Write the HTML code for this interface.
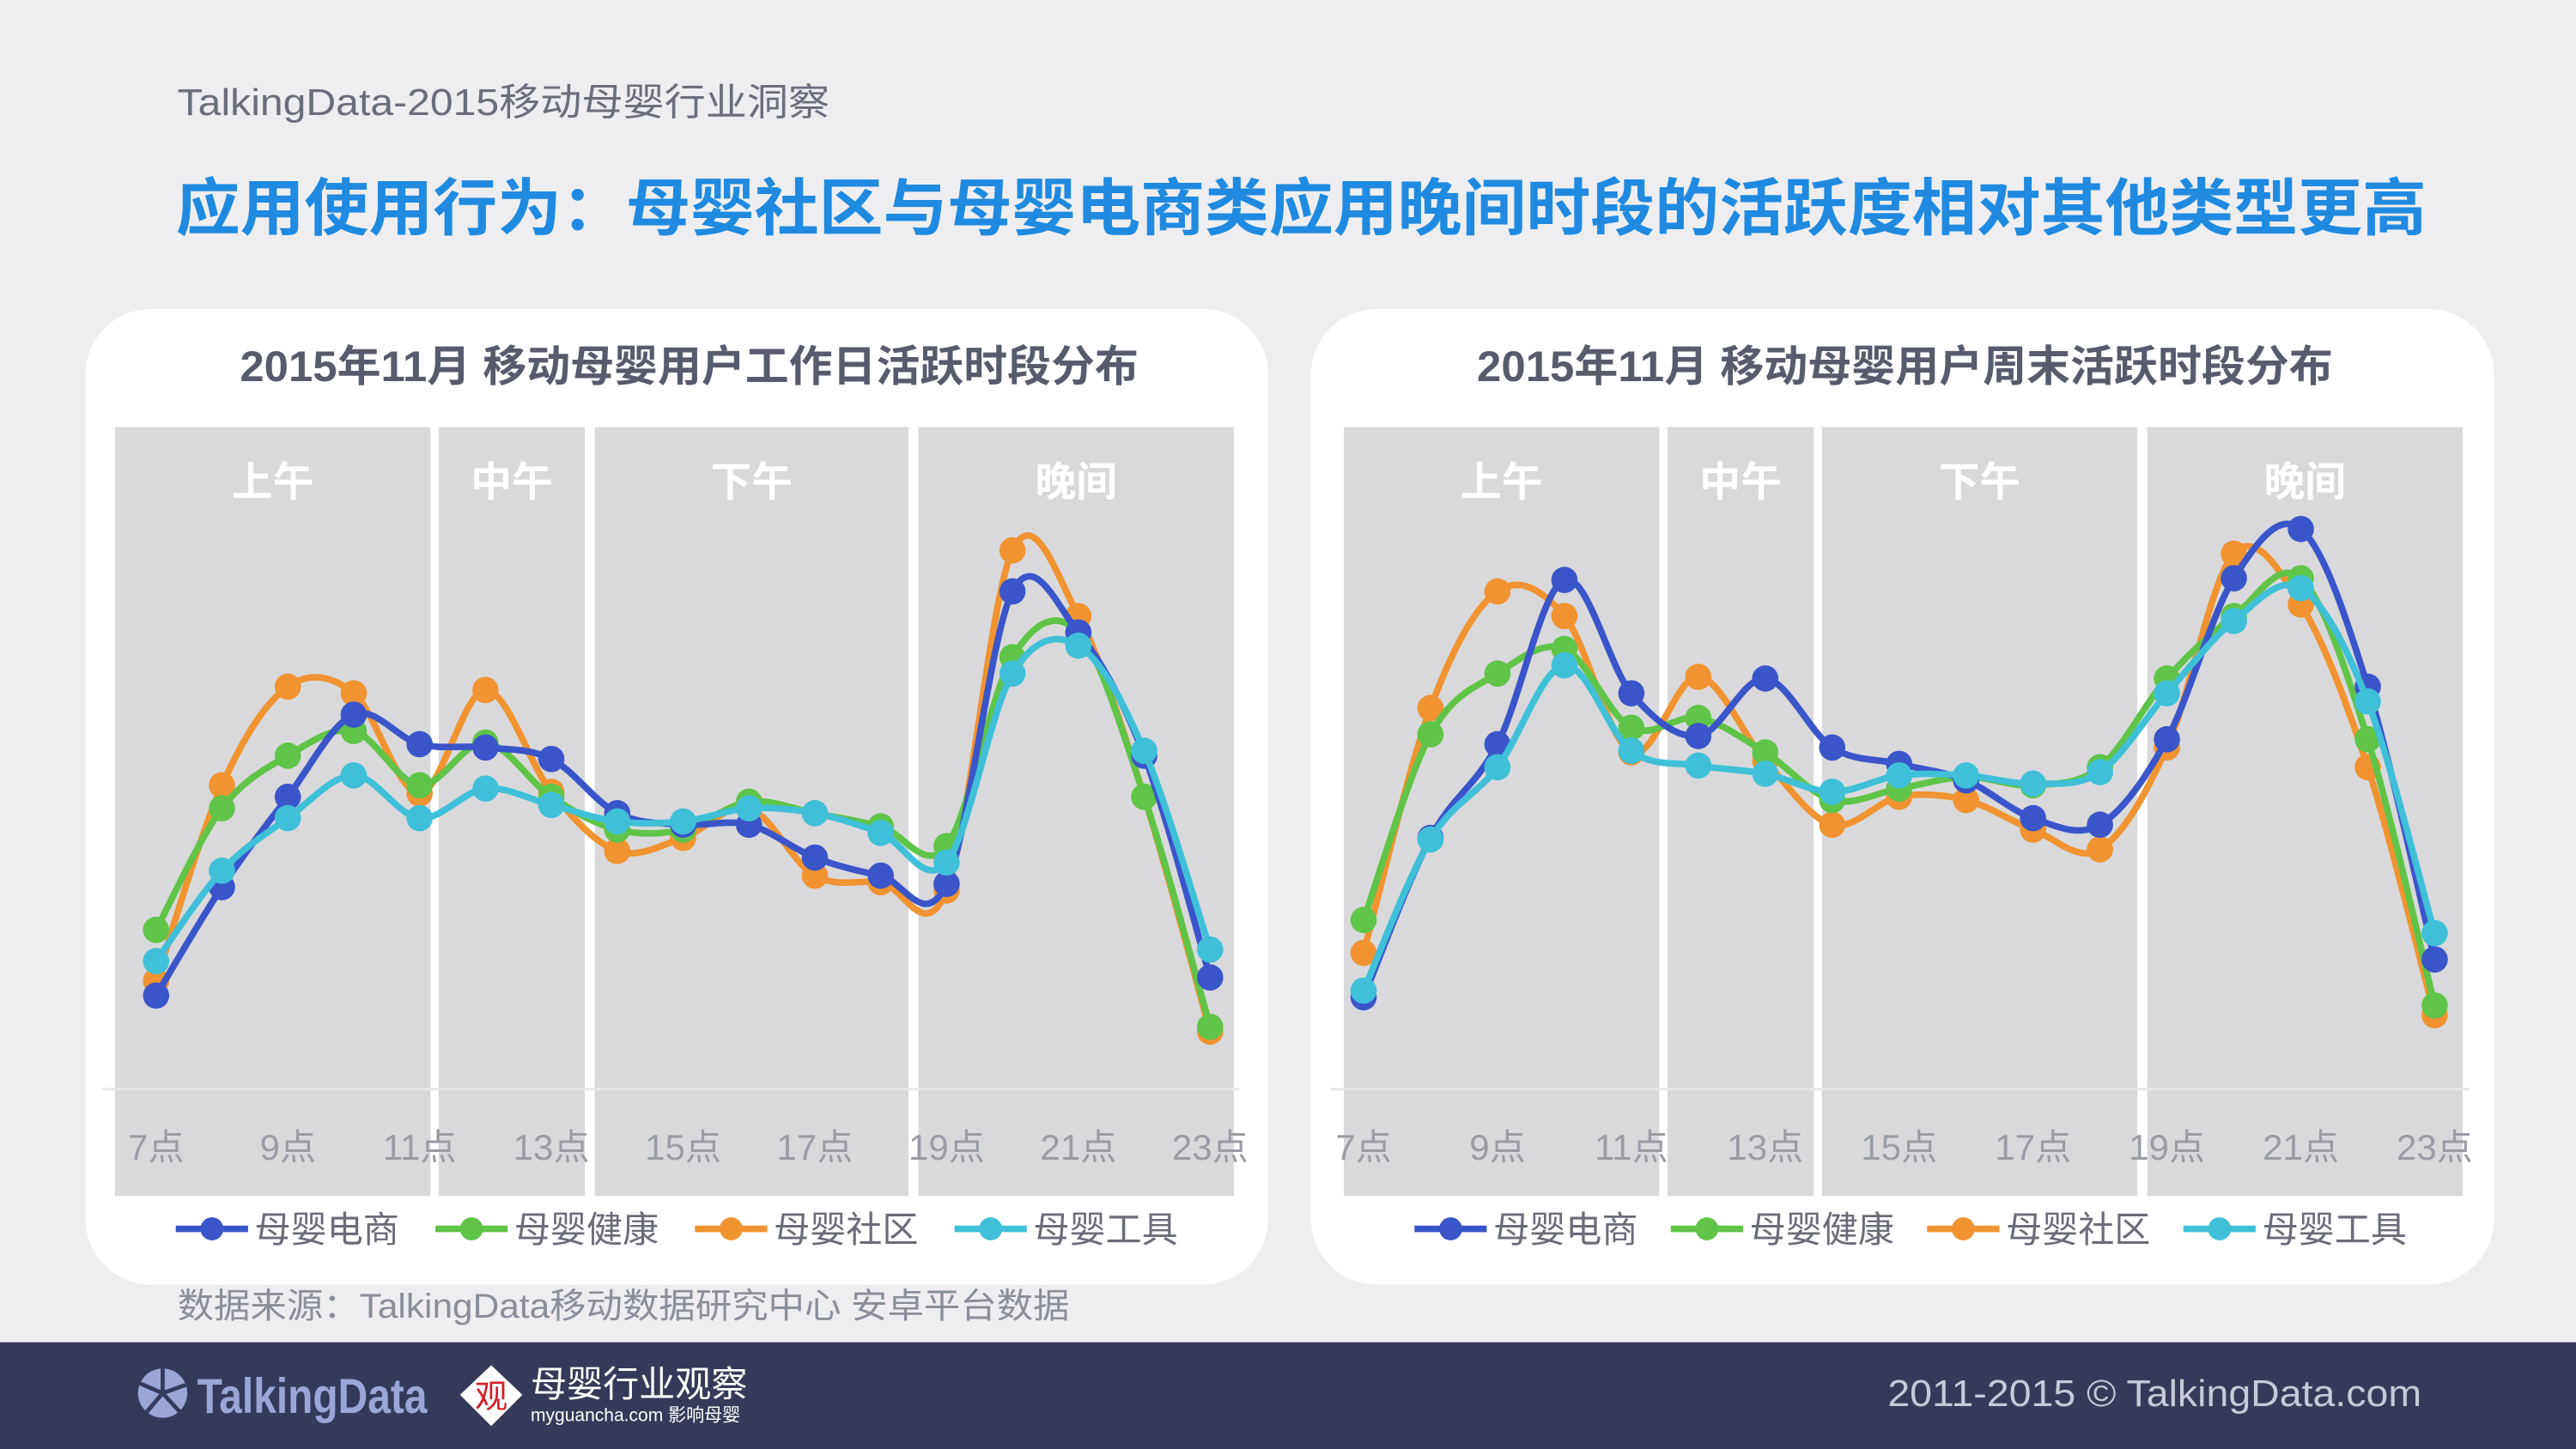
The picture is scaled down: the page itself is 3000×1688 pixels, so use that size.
<!DOCTYPE html>
<html><head><meta charset="utf-8">
<style>
html,body{margin:0;padding:0;width:3000px;height:1688px;overflow:hidden;background:#efeff2;}
svg{display:block;font-family:"Liberation Sans","Noto Sans CJK SC",sans-serif;}
</style></head>
<body>
<svg id="root" width="3000" height="1688" viewBox="0 0 1568 882" preserveAspectRatio="none">
  <rect x="0" y="0" width="1568" height="817" fill="#eeeef1"/>
  <text x="108" y="70" font-size="23" fill="#6a6e7a" textLength="397" lengthAdjust="spacingAndGlyphs">TalkingData-2015移动母婴行业洞察</text>
  <text x="107" y="140" font-size="38" font-weight="bold" fill="#1f8ae0" textLength="1370" lengthAdjust="spacingAndGlyphs">应用使用行为：母婴社区与母婴电商类应用晚间时段的活跃度相对其他类型更高</text>
  <g id="chartL"></g>
  <g id="chartR"></g>
  <text x="108" y="802" font-size="21" fill="#8a8e98" textLength="543" lengthAdjust="spacingAndGlyphs">数据来源：TalkingData移动数据研究中心 安卓平台数据</text>
  <rect x="0" y="817" width="1568" height="65" fill="#353a5a"/>
  <g>
    <circle cx="99" cy="848" r="15" fill="#9aa6d6"/>
    <path d="M99 848 L99 833 M99 848 L113 843 M99 848 L110 860 M99 848 L88 861 M99 848 L85 842" stroke="#353a5a" stroke-width="2.5"/>
    <text x="120" y="860" font-size="30" font-weight="bold" fill="#9aa6d6" textLength="140" lengthAdjust="spacingAndGlyphs">TalkingData</text>
  </g>
  <g>
    <polygon points="299,831 318,849 299,868 280,849" fill="#fff"/>
    <text x="299" y="857" font-size="20" fill="#d0202a" text-anchor="middle">观</text>
    <text x="323" y="850" font-size="22" fill="#fff">母婴行业观察</text>
    <text x="323" y="865" font-size="11" fill="#fff">myguancha.com 影响母婴</text>
  </g>
  <text x="1474" y="856" font-size="23" fill="#c6c9d8" text-anchor="end" textLength="325" lengthAdjust="spacingAndGlyphs">2011-2015 © TalkingData.com</text>
</svg>
<script>
const hours = [7,8,9,10,11,12,13,14,15,16,17,18,19,20,21,22,23];
const tickLabels = ["7点","9点","11点","13点","15点","17点","19点","21点","23点"];
const seriesNames = ["母婴电商","母婴健康","母婴社区","母婴工具"];
const periodLabels = ["上午","中午","下午","晚间"];
const wdEcommerce = [57,123,178,228,210,208,201,168,161,161,141,130,125,303,278,203,68];
const wdHealth    = [97,171,203,218,185,211,178,158,158,175,168,160,148,263,278,178,38];
const wdCommunity = [66,185,245,241,180,243,181,145,153,171,130,126,121,328,288,178,35];
const wdTools     = [78,133,165,191,165,183,173,163,163,171,168,156,138,253,270,206,85];
const weEcommerce = [56,153,210,310,241,215,250,208,198,188,165,161,213,311,341,245,79];
const weHealth    = [103,216,253,268,220,226,205,176,183,190,185,196,250,288,311,213,51];
const weCommunity = [83,232,303,288,205,251,200,161,178,176,158,146,208,326,295,196,45];
const weTools     = [60,152,196,258,206,197,192,181,191,191,186,193,241,285,305,236,95];

const colors = ["#3a55c9","#5fc447","#f09330","#3fc0d8"];
const NS = "http://www.w3.org/2000/svg";
function mk(tag, attrs, parent){const e=document.createElementNS(NS,tag);for(const k in attrs)e.setAttribute(k,attrs[k]);parent.appendChild(e);return e;}

function drawChart(g, cfg, data){
  const panel = mk('rect',{x:cfg.px,y:188,width:720,height:594,rx:40,fill:'#fff'},g);
  
  
  const t = mk('text',{x:cfg.tx,y:232,'font-size':26,'font-weight':'bold',fill:'#575b6b',textLength:cfg.tw,lengthAdjust:'spacingAndGlyphs'},g);
  t.textContent = cfg.title;
  
  
  const xs = h => cfg.x0 + (h-7)*cfg.step;
  const ys = v => 663 - v;
  cfg.bands.forEach((b,i)=>{
    const r = mk('rect',{x:b[0],y:260,width:b[1]-b[0],height:468,fill:'#d9d9dc'},g);
    
    
    const lt = mk('text',{x:(b[0]+b[1])/2,y:302,'font-size':25,'font-weight':'bold',fill:'#fff','text-anchor':'middle'},g);
    lt.textContent = periodLabels[i];
    
    
  });
  const base = mk('line',{x1:cfg.bands[0][0]-8,x2:cfg.bands[3][1]+4,y1:663,y2:663,stroke:'#e8e8ea','stroke-width':1.5},g);
  
  
  tickLabels.forEach((lab,i)=>{
    const tx = mk('text',{x:xs(7+i*2),y:706,'font-size':22,fill:'#9a9ca4','text-anchor':'middle'},g);
    tx.textContent = lab;
    
    
  });
  const order=[2,1,0,3];
  order.forEach(si=>{
    const vals=data[si];
    const pts=vals.map((v,i)=>[xs(hours[i]),ys(v)]);
    let d='M'+pts[0][0]+' '+pts[0][1];
    for(let i=0;i<pts.length-1;i++){
      const p0=pts[Math.max(0,i-1)],p1=pts[i],p2=pts[i+1],p3=pts[Math.min(pts.length-1,i+2)];
      const c1=[p1[0]+(p2[0]-p0[0])/6,p1[1]+(p2[1]-p0[1])/6];
      const c2=[p2[0]-(p3[0]-p1[0])/6,p2[1]-(p3[1]-p1[1])/6];
      d+=` C${c1[0]} ${c1[1]} ${c2[0]} ${c2[1]} ${p2[0]} ${p2[1]}`;
    }
    const path=mk('path',{d:d,fill:'none',stroke:colors[si],'stroke-width':4},g);
    
    
    pts.forEach(p=>{
      const c=mk('circle',{cx:p[0],cy:p[1],r:8,fill:colors[si]},g);
      
      
    });
  });
  seriesNames.forEach((n,i)=>{
    const lx=cfg.legX+i*cfg.legStep;
    const lg=mk('g',{},g);
    
    
    mk('line',{x1:lx,x2:lx+44,y1:748,y2:748,stroke:colors[i],'stroke-width':4},lg);
    mk('circle',{cx:lx+22,cy:748,r:7,fill:colors[i]},lg);
    const tx=mk('text',{x:lx+48,y:756,'font-size':22,fill:'#6a6d78'},lg);
    tx.textContent=n;
  });
}
drawChart(document.getElementById('chartL'),{px:52,tx:146,tw:547,title:'2015年11月 移动母婴用户工作日活跃时段分布',x0:95,step:40.1,
  bands:[[70,262],[267,356],[362,553],[559,751]],legX:107,legStep:158},[wdEcommerce,wdHealth,wdCommunity,wdTools]);
drawChart(document.getElementById('chartR'),{px:798,tx:899,tw:521,title:'2015年11月 移动母婴用户周末活跃时段分布',x0:830,step:40.75,
  bands:[[818,1010],[1015,1104],[1109,1301],[1307,1499]],legX:861,legStep:156},[weEcommerce,weHealth,weCommunity,weTools]);
</script>
</body></html>
